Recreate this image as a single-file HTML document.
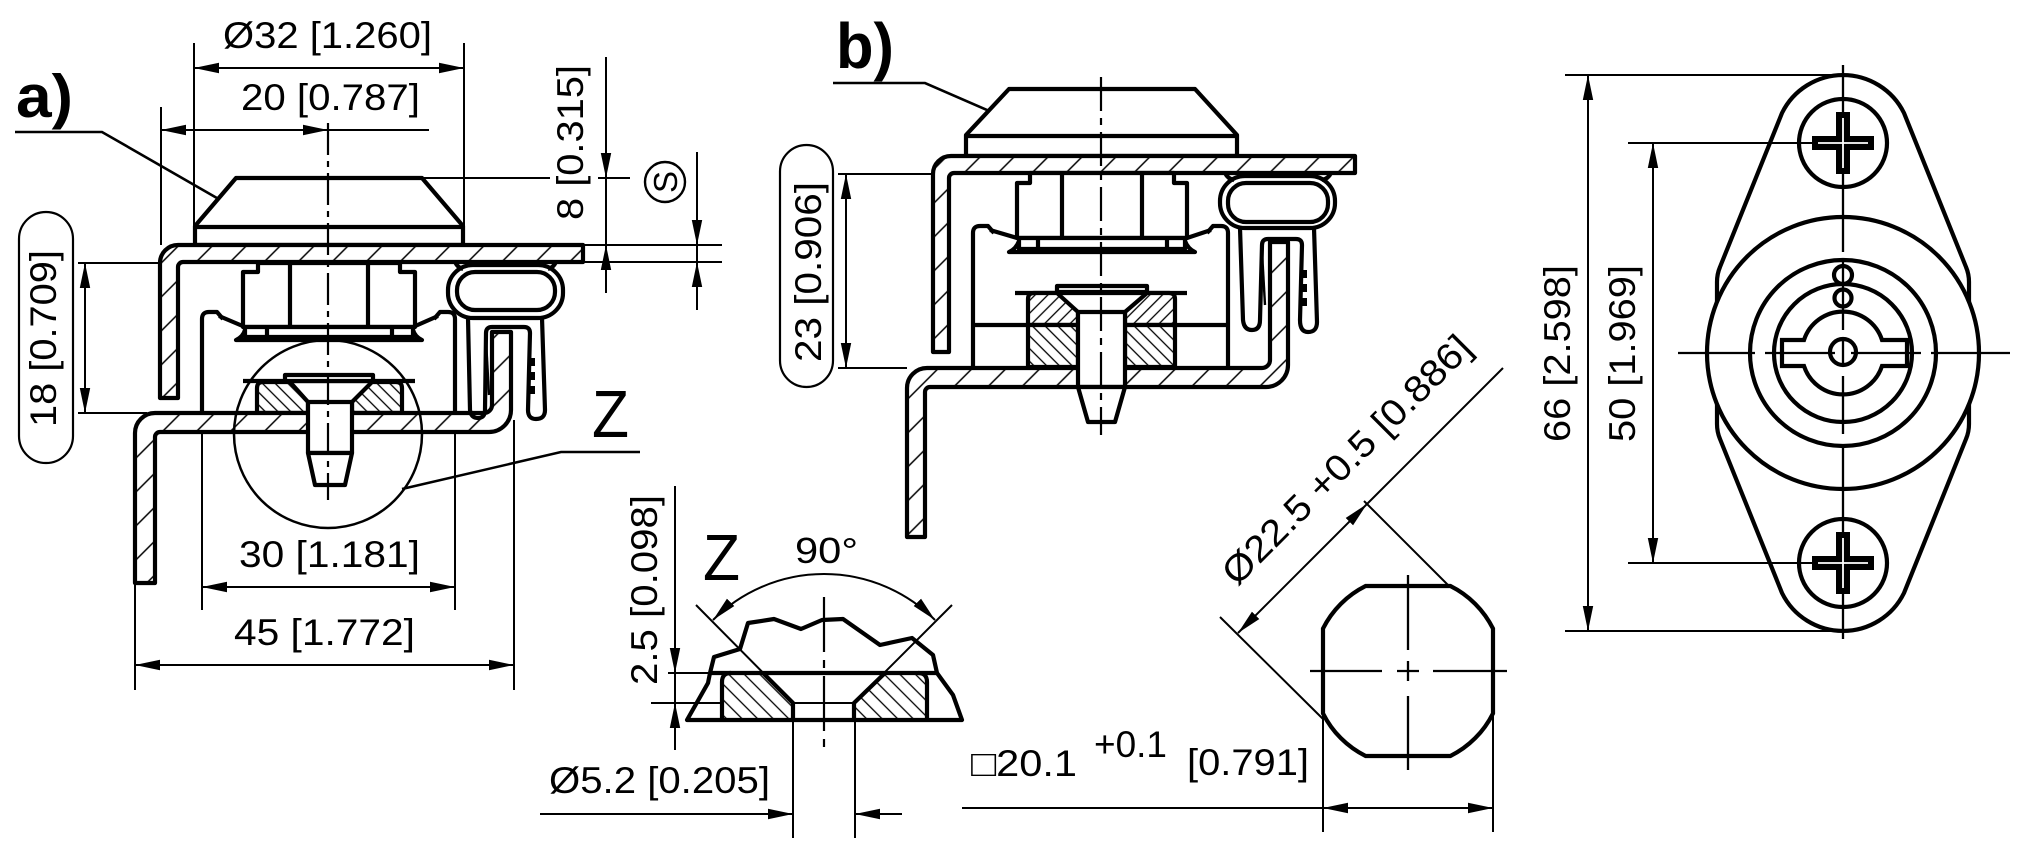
<!DOCTYPE html>
<html><head><meta charset="utf-8"><style>
html,body{margin:0;padding:0;background:#fff;}
svg{display:block;}
text{font-family:"Liberation Sans",Arial,sans-serif;fill:#000;}
</style></head><body>
<svg width="2020" height="850" viewBox="0 0 2020 850" xmlns="http://www.w3.org/2000/svg">
<defs>
<marker id="ar" viewBox="0 0 24 10" refX="24" refY="5" markerWidth="25" markerHeight="11" orient="auto-start-reverse" markerUnits="userSpaceOnUse"><path d="M0,0 L24,5 L0,10 z" fill="#000"/></marker>
<pattern id="hp" patternUnits="userSpaceOnUse" width="24" height="24" patternTransform="rotate(45)"><rect width="24" height="24" fill="#fff"/><line x1="12" y1="0" x2="12" y2="24" stroke="#000" stroke-width="1.5"/></pattern>
<pattern id="hn8" patternUnits="userSpaceOnUse" width="9" height="9" patternTransform="rotate(-45)"><rect width="9" height="9" fill="#fff"/><line x1="4.5" y1="0" x2="4.5" y2="9" stroke="#000" stroke-width="1.3"/></pattern>
<pattern id="hp8" patternUnits="userSpaceOnUse" width="9" height="9" patternTransform="rotate(45)"><rect width="9" height="9" fill="#fff"/><line x1="4.5" y1="0" x2="4.5" y2="9" stroke="#000" stroke-width="1.3"/></pattern>
<pattern id="hz" patternUnits="userSpaceOnUse" width="11" height="11" patternTransform="rotate(-45)"><rect width="11" height="11" fill="#fff"/><line x1="5.5" y1="0" x2="5.5" y2="11" stroke="#000" stroke-width="1.3"/></pattern>
</defs>
<rect width="2020" height="850" fill="#fff"/>

<!-- ================= a) ================= -->
<g stroke="#000" stroke-width="2" fill="none">
  <path d="M194 43 V227 M464 43 V227"/>
  <line x1="194" y1="68" x2="464" y2="68" marker-start="url(#ar)" marker-end="url(#ar)"/>
  <path d="M161 107 V245"/>
  <line x1="161" y1="130" x2="328" y2="130" marker-start="url(#ar)" marker-end="url(#ar)"/>
  <path d="M328 130 H429"/>
  <path d="M422 178 H550 M598 178 H630"/>
  <path d="M606 57 V293"/>
  <line x1="606" y1="150" x2="606" y2="178" marker-end="url(#ar)"/>
  <line x1="606" y1="275" x2="606" y2="245" marker-end="url(#ar)"/>
  <path d="M583 245 H722 M583 262 H722"/>
  <path d="M697 152 V310"/>
  <line x1="697" y1="218" x2="697" y2="245" marker-end="url(#ar)"/>
  <line x1="697" y1="290" x2="697" y2="262" marker-end="url(#ar)"/>
  <circle cx="665" cy="182" r="20" stroke-width="2.4"/>
  <path d="M78 263 H160 M78 413 H147"/>
  <line x1="85" y1="263" x2="85" y2="413" marker-start="url(#ar)" marker-end="url(#ar)"/>
  <rect x="19" y="212" width="54" height="251" rx="27" stroke-width="2.2"/>
  <path d="M202 432 V610 M455 432 V610"/>
  <line x1="202" y1="587" x2="455" y2="587" marker-start="url(#ar)" marker-end="url(#ar)"/>
  <path d="M135 583 V690 M514 420 V690"/>
  <line x1="135" y1="665" x2="514" y2="665" marker-start="url(#ar)" marker-end="url(#ar)"/>
  <path d="M15 132 H102 L243 213" stroke-width="2.6"/>
</g>
<circle cx="243" cy="213" r="9" fill="#000"/>

<g stroke="#000" stroke-width="4.2" fill="#fff" stroke-linejoin="round">
  <!-- knob -->
  <path d="M195 245 V226 L236 178 H422 L463 226 V245 Z"/>
  <path d="M195 227 H463" fill="none"/>
  <!-- upper L bracket -->
  <path d="M583 245 H178 A18 18 0 0 0 160 263 V398 H178 V267 A5 5 0 0 1 183 262 H583 Z" fill="url(#hp)"/>
  <!-- housing -->
  <path d="M202 413 V319 Q202 312 209 312 H217 L223 319" fill="none"/>
  <path d="M219 316 L245 327" fill="none"/>
  <path d="M245 330 Q243 337 236 340 H422 Q415 337 413 330" fill="none"/>
  <path d="M455 413 V319 Q455 312 448 312 H440 L434 319" fill="none"/>
  <path d="M438 316 L413 327" fill="none"/>
  <!-- body -->
  <path d="M243 327 V272 H258 V263 H400 V272 H415 V327 Z"/>
  <path d="M290 263 V327 M368 263 V327" fill="none"/>
  <rect x="245" y="327" width="168" height="10"/>
  <path d="M267 327 V337 M392 327 V337" fill="none"/>
  <!-- screw head / nut -->
  <path d="M243 381 H415" fill="none"/>
  <rect x="285" y="375" width="88" height="6"/>
  <path d="M257 413 V388 Q257 382 263 382 H290 L308 402 V413 Z" fill="url(#hn8)"/>
  <path d="M402 413 V388 Q402 382 396 382 H372 L352 402 V413 Z" fill="url(#hn8)"/>
  <!-- lower bracket -->
  <path d="M135 583 V433 A20 20 0 0 1 155 413 H484 A8 8 0 0 0 492 405 V332 H511 V410 A22 22 0 0 1 489 432 H160 A5 5 0 0 0 155 437 V583 Z" fill="url(#hp)"/>
  <!-- shank -->
  <rect x="308" y="402" width="44" height="51"/>
  <path d="M308 453 H352 L345 485 H315 Z"/>
  <!-- gasket -->
  <path d="M468 318 L470 410 Q471 418 478 418 Q485 418 485 410 L486 333 Q486 327 492 327 H524 Q530 327 530 333 L528 410 Q528 419 536 419 Q545 419 545 410 L542 318" fill="none"/>
  <rect x="448" y="265" width="115" height="53" rx="25"/>
  <rect x="457" y="272" width="98" height="38" rx="18"/>
  <path d="M455 262 Q458 268 463 269 M556 262 Q553 268 548 269" fill="none"/>
  <path d="M486 340 L489 395" fill="none" stroke-width="2.4"/>
</g>
<g fill="#000">
  <rect x="528" y="358" width="7" height="8"/><rect x="528" y="372" width="7" height="8"/><rect x="528" y="386" width="7" height="8"/>
</g>
<path d="M328 123 V500" stroke="#000" stroke-width="2.2" stroke-dasharray="32,6,6,6" fill="none"/>
<g stroke="#000" stroke-width="2.5" fill="none">
  <circle cx="328" cy="434" r="94"/>
  <path d="M402 489 L561 452 H640"/>
</g>

<text x="16" y="117" font-size="60" font-weight="bold" textLength="57" lengthAdjust="spacingAndGlyphs">a)</text>
<text x="223" y="48" font-size="37" textLength="209" lengthAdjust="spacingAndGlyphs">Ø32 [1.260]</text>
<text x="241" y="110" font-size="37" textLength="179" lengthAdjust="spacingAndGlyphs">20 [0.787]</text>
<text x="239" y="567" font-size="37" textLength="181" lengthAdjust="spacingAndGlyphs">30 [1.181]</text>
<text x="234" y="645" font-size="37" textLength="181" lengthAdjust="spacingAndGlyphs">45 [1.772]</text>
<text x="592" y="437" font-size="67" textLength="37" lengthAdjust="spacingAndGlyphs">Z</text>
<text transform="translate(56,427) rotate(-90)" font-size="37" textLength="177" lengthAdjust="spacingAndGlyphs">18 [0.709]</text>
<text transform="translate(583,220) rotate(-90)" font-size="37" textLength="155" lengthAdjust="spacingAndGlyphs">8 [0.315]</text>
<text transform="translate(677,182) rotate(-90)" font-size="33" text-anchor="middle">S</text>

<!-- ================= b) ================= -->
<g stroke="#000" stroke-width="2" fill="none">
  <rect x="780" y="145" width="53" height="242" rx="26.5" stroke-width="2.2"/>
  <path d="M838 174 H933 M838 368 H907"/>
  <line x1="846" y1="174" x2="846" y2="368" marker-start="url(#ar)" marker-end="url(#ar)"/>
  <path d="M833 83 H925 L1017 123" stroke-width="2.6"/>
</g>
<circle cx="1017" cy="123" r="9" fill="#000"/>
<g stroke="#000" stroke-width="4.2" fill="#fff" stroke-linejoin="round">
  <path d="M966 156 V135 L1009 89 H1195 L1237 135 V156 Z"/>
  <path d="M966 136 H1237" fill="none"/>
  <path d="M1355 156 H951 A18 18 0 0 0 933 174 V352 H949 V178 A5 5 0 0 1 954 173 H1355 Z" fill="url(#hp)"/>
  <!-- housing -->
  <path d="M973 368 V233 Q973 226 980 226 H988 L994 233" fill="none"/>
  <path d="M990 230 L1017 238" fill="none"/>
  <path d="M1019 241 Q1016 249 1009 252 H1195 Q1188 249 1185 241" fill="none"/>
  <path d="M1228 368 V233 Q1228 226 1221 226 H1213 L1207 233" fill="none"/>
  <path d="M1211 230 L1187 238" fill="none"/>
  <path d="M1017 238 V183 H1030 V173 H1174 V183 H1187 V238 Z"/>
  <path d="M1062 173 V238 M1142 173 V238" fill="none"/>
  <rect x="1019" y="238" width="166" height="11"/>
  <path d="M1038 238 V249 M1167 238 V249" fill="none"/>
  <path d="M973 325 H1228" fill="none"/>
  <path d="M1015 293 H1187" fill="none"/>
  <rect x="1057" y="286" width="90" height="6"/>
  <path d="M1028 325 V299 Q1028 293 1034 293 H1057 L1078 312 V325 Z" fill="url(#hp8)"/>
  <path d="M1028 325 H1078 V367 H1028 Z" fill="url(#hn8)"/>
  <path d="M1175 325 V299 Q1175 293 1169 293 H1147 L1125 312 V325 Z" fill="url(#hp8)"/>
  <path d="M1125 325 H1175 V367 H1125 Z" fill="url(#hn8)"/>
  <path d="M907 537 V388 A20 20 0 0 1 927 368 H1262 A8 8 0 0 0 1270 360 V242 H1288 V365 A22 22 0 0 1 1266 387 H930 A5 5 0 0 0 925 392 V537 Z" fill="url(#hp)"/>
  <rect x="1078" y="312" width="47" height="75"/>
  <path d="M1078 387 H1125 L1115 422 H1088 Z"/>
  <!-- gasket -->
  <path d="M1240 228 L1243 320 Q1244 330 1252 330 Q1260 330 1260 320 L1262 245 Q1262 239 1268 239 H1296 Q1302 239 1302 245 L1300 320 Q1300 332 1308 332 Q1317 332 1317 322 L1314 228" fill="none"/>
  <rect x="1220" y="176" width="115" height="52" rx="25"/>
  <rect x="1228" y="183" width="100" height="39" rx="18"/>
  <path d="M1225 173 Q1228 179 1234 180 M1331 173 Q1328 179 1322 180" fill="none"/>
  <path d="M1262 252 L1265 305" fill="none" stroke-width="2.4"/>
</g>
<g fill="#000">
  <rect x="1300" y="270" width="7" height="8"/><rect x="1300" y="284" width="7" height="8"/><rect x="1300" y="298" width="7" height="8"/>
</g>
<path d="M1101 77 V435" stroke="#000" stroke-width="2.2" stroke-dasharray="34,7,7,7" fill="none"/>
<text x="836" y="68" font-size="64" font-weight="bold" textLength="58" lengthAdjust="spacingAndGlyphs">b)</text>
<text transform="translate(821,362) rotate(-90)" font-size="37" textLength="180" lengthAdjust="spacingAndGlyphs">23 [0.906]</text>

<!-- ================= Z detail ================= -->
<g stroke="#000" stroke-width="2" fill="none">
  <path d="M696 605 L793 703 M952 605 L854 703"/>
  <path d="M713 620 A157 157 0 0 1 935 620" marker-start="url(#ar)" marker-end="url(#ar)"/>
  <path d="M668 673 H712 M651 703 H854"/>
  <path d="M675 486 V750"/>
  <line x1="675" y1="648" x2="675" y2="673" marker-end="url(#ar)"/>
  <line x1="675" y1="728" x2="675" y2="703" marker-end="url(#ar)"/>
  <path d="M793 720 V838 M855 720 V838"/>
  <line x1="540" y1="814" x2="793" y2="814" marker-end="url(#ar)"/>
  <line x1="902" y1="814" x2="855" y2="814" marker-end="url(#ar)"/>
</g>
<path d="M722 673 H763 L793 703 V720 H722 Z" fill="url(#hz)"/>
<path d="M885 673 H927 V720 H854 V703 Z" fill="url(#hz)"/>
<g stroke="#000" stroke-width="4.2" fill="none" stroke-linejoin="round">
  <path d="M687 720 L708 683 L710 673 L714 657 L740 649 L748 623 L774 619 L801 629 L822 620 L843 619 L880 645 L912 638 L933 655 L937 673 L953 695 L962 720 Z"/>
  <path d="M710 673 H937"/>
  <path d="M763 673 L793 703 V720 M885 673 L854 703 V720"/>
  <path d="M722 720 V682 Q722 673 731 673 M927 720 V682 Q927 673 918 673"/>
</g>
<path d="M824 597 V750" stroke="#000" stroke-width="2.2" stroke-dasharray="55,8,8,8" fill="none"/>
<text x="703" y="580" font-size="65" textLength="37" lengthAdjust="spacingAndGlyphs">Z</text>
<text x="795" y="563" font-size="36" textLength="63" lengthAdjust="spacingAndGlyphs">90°</text>
<text transform="translate(657,685) rotate(-90)" font-size="37" textLength="190" lengthAdjust="spacingAndGlyphs">2.5 [0.098]</text>
<text x="549" y="793" font-size="37" textLength="221" lengthAdjust="spacingAndGlyphs">Ø5.2 [0.205]</text>

<!-- ================= octagon ================= -->
<g stroke="#000" stroke-width="2" fill="none">
  <path d="M1323 715 V832 M1493 715 V832"/>
  <path d="M962 808 H1323"/>
  <line x1="1323" y1="808" x2="1493" y2="808" marker-start="url(#ar)" marker-end="url(#ar)"/>
  <path d="M1323 719 L1220 617 M1450 587 L1364 501"/>
  <line x1="1238" y1="633" x2="1367" y2="504" marker-start="url(#ar)" marker-end="url(#ar)"/>
  <path d="M1367 504 L1503 368"/>
  <path d="M1310 671 H1382 M1397 671 H1419 M1433 671 H1507 M1408 575 V650 M1408 661 V681 M1408 696 V770" stroke-width="2.3"/>
</g>
<path d="M1365.6 586 L1450.4 586 A95 95 0 0 1 1493 628.6 L1493 713.4 A95 95 0 0 1 1450.4 756 L1365.6 756 A95 95 0 0 1 1323 713.4 L1323 628.6 A95 95 0 0 1 1365.6 586 Z" stroke="#000" stroke-width="4.2" fill="none"/>
<text transform="translate(1237,587) rotate(-45)" font-size="37" textLength="335" lengthAdjust="spacingAndGlyphs">Ø22.5 +0.5 [0.886]</text>
<text x="971" y="776" font-size="37" textLength="106" lengthAdjust="spacingAndGlyphs">□20.1</text>
<text x="1094" y="757" font-size="37" textLength="73" lengthAdjust="spacingAndGlyphs">+0.1</text>
<text x="1187" y="775" font-size="37" textLength="122" lengthAdjust="spacingAndGlyphs">[0.791]</text>

<!-- ================= right view ================= -->
<g stroke="#000" stroke-width="2" fill="none">
  <path d="M1565 75 H1843 M1565 631 H1843 M1628 143 H1873 M1628 563 H1873"/>
  <line x1="1588" y1="75" x2="1588" y2="631" marker-start="url(#ar)" marker-end="url(#ar)"/>
  <line x1="1653" y1="143" x2="1653" y2="563" marker-start="url(#ar)" marker-end="url(#ar)"/>
</g>
<g stroke="#000" stroke-width="4.2" fill="none">
  <path d="M1717 302 V282 Q1717 274 1720 267 L1782 113 A68 68 0 0 1 1904 113 L1966 267 Q1969 274 1969 282 V302"/>
  <path d="M1717 404 V424 Q1717 432 1720 439 L1782 593 A68 68 0 0 0 1904 593 L1966 439 Q1969 432 1969 424 V404"/>
  <circle cx="1843" cy="353" r="136"/>
  <circle cx="1843" cy="353" r="93"/>
  <circle cx="1843" cy="353" r="69"/>
  <path d="M1782 340 H1804 A41 41 0 0 1 1882 340 H1907 V366 H1882 A41 41 0 0 1 1804 366 H1782 Z"/>
  <circle cx="1843" cy="352" r="13"/>
  <circle cx="1843" cy="275" r="9"/>
  <circle cx="1843" cy="298" r="8.5"/>
  <circle cx="1843" cy="143" r="44"/>
  <circle cx="1843" cy="563" r="44"/>
</g>
<g stroke="#000" stroke-width="2.3" fill="none">
  <path d="M1843 65 V252 M1843 260 V330 M1843 340 V366 M1843 376 V434 M1843 444 V639"/>
  <path d="M1678 353 H1755 M1765 353 H1835 M1851 353 H1921 M1931 353 H2010"/>
</g>
<g fill="#000">
  <path d="M1836 112 H1850 V136 H1874 V150 H1850 V174 H1836 V150 H1812 V136 H1836 Z"/>
  <path d="M1836 532 H1850 V556 H1874 V570 H1850 V594 H1836 V570 H1812 V556 H1836 Z"/>
</g>
<g stroke="#fff" stroke-width="1.8" fill="none">
  <path d="M1843 118 V168 M1818 143 H1868"/>
  <path d="M1843 538 V588 M1818 563 H1868"/>
</g>
<text transform="translate(1570,442) rotate(-90)" font-size="37" textLength="177" lengthAdjust="spacingAndGlyphs">66 [2.598]</text>
<text transform="translate(1635,442) rotate(-90)" font-size="37" textLength="177" lengthAdjust="spacingAndGlyphs">50 [1.969]</text>
</svg>
</body></html>
